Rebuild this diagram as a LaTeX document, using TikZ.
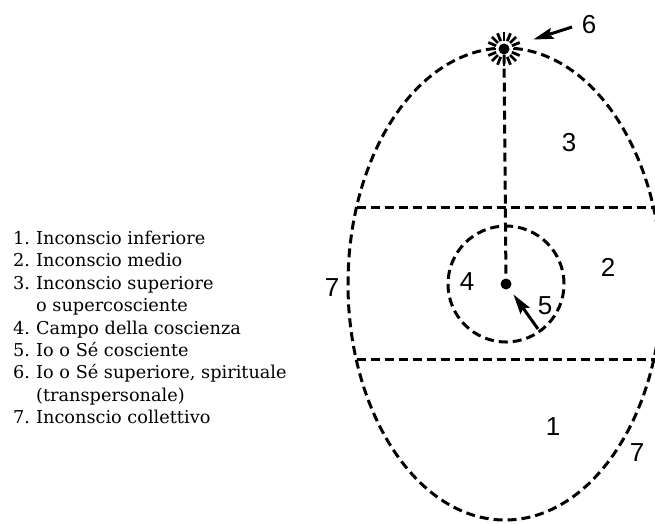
\documentclass[tikz,border=0pt]{standalone}
\usepackage{fontspec}
\newfontfamily\digitfont{Liberation Sans}
\newfontfamily\legendfont{DejaVu Serif}
\usetikzlibrary{arrows.meta,calc}
\tikzset{
  dash line/.style={line width=3pt, dash pattern=on 9pt off 5pt},
  numlabel/.style={font=\digitfont\fontsize{26}{26}\selectfont, inner sep=0pt},
  pointer/.style={line width=3pt, -{Stealth[length=20pt,width=11pt,inset=3pt]}},
  ray/.style={line width=2.8pt},
}
\begin{document}
\begin{tikzpicture}[x=1pt,y=-1pt]
\useasboundingbox (0,0) rectangle (655,523);
\clip (0,0) rectangle (655,523);
\fill[white] (0,0) rectangle (655,523);
% legend
\node[anchor=base west, inner sep=0pt, align=left,
      font=\legendfont\fontsize{17.7}{22.4}\selectfont] (legend) at (13,423.7)
{\makebox[23pt][l]{1.}Inconscio inferiore\\
 \makebox[23pt][l]{2.}Inconscio medio\\
 \makebox[23pt][l]{3.}Inconscio superiore\\
 \makebox[23pt][l]{}o supercosciente\\
 \makebox[23pt][l]{4.}Campo della coscienza\\
 \makebox[23pt][l]{5.}Io o Sé cosciente\\
 \makebox[23pt][l]{6.}Io o Sé superiore, spirituale\\
 \makebox[23pt][l]{}(transpersonale)\\
 \makebox[23pt][l]{7.}Inconscio collettivo};
% egg
\draw[dash line] (505,284) ellipse [x radius=157pt, y radius=236pt];
% horizontal dividers
\coordinate (tl) at (356.5,207);
\coordinate (tr) at (655,207);
\coordinate (bl) at (356.5,359);
\coordinate (br) at (655,359);
\draw[dash line] (tl) -- (tr);
\draw[dash line] (bl) -- (br);
% field of consciousness
\draw[dash line] (506,284) circle [radius=58pt];
% self and higher self
\node[circle, fill=black, inner sep=0pt, minimum size=11pt] (io) at (506,284) {};
\node[circle, fill=black, inner sep=0pt, minimum size=11pt] (sun) at (504,49) {};
\foreach \a in {0,22.5,...,337.5}
  \draw[ray] ($(sun)+(\a:8.5)$) -- ($(sun)+(\a:17)$);
\draw[dash line] (sun) -- (io);
% labels
\node[numlabel] (l6) at (589,25) {6};
\node[numlabel] (l3) at (569,143) {3};
\node[numlabel] (l2) at (608,267) {2};
\node[numlabel] (l4) at (467,282) {4};
\node[numlabel] (l5) at (545,306) {5};
\node[numlabel] (l7a) at (332,288) {7};
\node[numlabel] (l1) at (553,427) {1};
\node[numlabel] (l7b) at (637,453) {7};
% arrows
\coordinate (a6) at (572,27);
\draw[pointer, shorten >=25pt] (a6) -- (sun);
\coordinate (a5) at (538,329);
\draw[pointer, shorten >=7pt] (a5) -- (io);
\end{tikzpicture}
\end{document}
